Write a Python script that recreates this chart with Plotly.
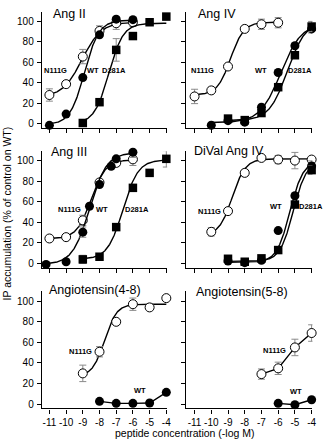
import numpy as np
import plotly.graph_objects as go

# ---------------- data ----------------
x_tickvals = [-11, -10, -9, -8, -7, -6, -5, -4]
x_ticktext = ["-11", "-10", "-9", "-8", "-7", "-6", "-5", "-4"]
y_tickvals = [0, 20, 40, 60, 80, 100]
y_ticktext = ["0", "20", "40", "60", "80", "100"]

panel_titles = ["Ang II", "Ang IV", "Ang III", "DiVal Ang IV",
                "Angiotensin(4-8)", "Angiotensin(5-8)"]

# Ang II
angII_n111g_x = [-11, -10, -9, -8, -7, -6]
angII_n111g_y = [28, 38.6, 65.5, 90.5, 98, 99]
angII_n111g_err = [6, 2, 7, 5, 6, 4]
angII_n111g_fit = [26, 99, -9.05, 0.75]   # bottom, top, logEC50, Hill
angII_wt_x = [-11, -10, -9, -8, -7, -6]
angII_wt_y = [-1.6, 9.4, 45, 86.7, 102, 101.5]
angII_wt_err = [1, 1, 2, 2, 2, 2]
angII_wt_fit = [-1, 101, -8.9, 1.0]
angII_d281a_x = [-9, -8, -7, -6, -5, -4]
angII_d281a_y = [0.7, 21, 72, 85.5, 99, 104.5]
angII_d281a_err = [1, 2, 11, 2, 3, 3]
angII_d281a_fit = [0, 98, -7.45, 1.0]

# Ang IV
angIV_n111g_x = [-11, -10, -9, -8, -7, -6]
angIV_n111g_y = [26.6, 32.5, 55.8, 92.5, 97, 98.5]
angIV_n111g_err = [7, 3, 1, 3, 5, 5]
angIV_n111g_fit = [28, 99, -8.85, 1.1]
angIV_wt_x = [-10, -9, -8, -7, -6, -5, -4]
angIV_wt_y = [-1.5, 3, 1.5, 16, 50, 76, 92.5]
angIV_wt_err = [1, 1, 1, 2, 2, 2, 4]
angIV_wt_fit = [1, 98, -5.85, 0.7]
angIV_d281a_x = [-9, -8, -7, -6, -5, -4]
angIV_d281a_y = [5, 3.5, 10.4, 35.6, 66.8, 94.8]
angIV_d281a_err = [1, 1, 2, 3, 3, 5]
angIV_d281a_fit = [3, 100, -5.45, 0.8]

# Ang III
angIII_n111g_x = [-11, -10, -9, -8, -7, -6]
angIII_n111g_y = [24.3, 25.6, 42, 79, 98, 101.5]
angIII_n111g_err = [1, 1, 5, 3, 3, 6]
angIII_n111g_fit = [24, 101, -8.5, 1.0]
angIII_wt_x = [-11.2, -10, -9, -8.6, -8, -7.3, -7, -6]
angIII_wt_y = [-1, 1.6, 30.5, 55.8, 77, 94.7, 102, 108.4]
angIII_wt_err = [1, 1, 5, 2, 2, 2, 2, 5]
angIII_wt_fit = [-1, 108, -8.6, 0.85]
angIII_d281a_x = [-9, -8, -7, -6, -5, -4]
angIII_d281a_y = [3.9, 6.5, 35.4, 73.7, 88.3, 102]
angIII_d281a_err = [4, 1, 1, 1, 1, 8]
angIII_d281a_fit = [4, 101, -6.6, 0.95]

# DiVal Ang IV
dival_n111g_x = [-10, -9, -8, -7, -6, -5, -4]
dival_n111g_y = [30.8, 51, 88.3, 102.9, 101.3, 100.3, 101.3]
dival_n111g_err = [4, 1, 3, 2, 4, 8, 1]
dival_n111g_fit = [27, 102, -8.75, 1.1]
dival_wt_x = [-9, -8, -7, -6, -5, -4]
dival_wt_y = [2.3, 0.7, 3, 32, 66, 95]
dival_wt_err = [1, 1, 1, 1, 1, 5]
dival_wt_fit = [1, 100, -5.3, 1.1]
dival_d281a_x = [-9, -8, -7, -6, -5, -4]
dival_d281a_y = [4.5, 1.6, 4.9, 13, 57.4, 91]
dival_d281a_err = [2, 1, 1, 1, 1, 4]
dival_d281a_fit = [2, 100, -5.1, 1.1]

# Angiotensin(4-8)
a48_n111g_x = [-9, -8, -7, -6, -5, -4]
a48_n111g_y = [29.8, 50.8, 79.9, 97, 93.9, 102.9]
a48_n111g_err = [8, 5, 2, 6, 2, 2]
a48_n111g_fit = [27, 97, -7.7, 1.2]
a48_wt_x = [-8, -7, -6, -5, -4]
a48_wt_y = [2.6, 0.7, 0.7, 1, 11.4]

# Angiotensin(5-8)
a58_n111g_x = [-7, -6, -5, -4]
a58_n111g_y = [29.1, 34.7, 55, 69]
a58_n111g_err = [5, 6, 8, 8]
a58_wt_x = [-6, -5, -4]
a58_wt_y = [0.7, -0.7, 4.2]

# ---------------- figure ----------------
W, H = 330, 440
FONT = "Liberation Sans, Arial, Helvetica, sans-serif"
ERRC = "#8a8a8a"

fig = go.Figure()


def hill(xs, p):
    b, t, ec, h = p
    xs = np.asarray(xs)
    return b + (t - b) / (1 + 10 ** ((ec - xs) * h))


def ax_ids(i):
    return ("x" if i == 1 else f"x{i}"), ("y" if i == 1 else f"y{i}")


def add_points(i, xs, ys, kind, err=None, mode="markers"):
    xa, ya = ax_ids(i)
    if kind == "open":
        marker = dict(symbol="circle", size=9, color="white",
                      line=dict(color="black", width=1))
    elif kind == "filled":
        marker = dict(symbol="circle", size=9, color="black",
                      line=dict(color="black", width=0))
    else:
        marker = dict(symbol="square", size=8.5, color="black",
                      line=dict(color="black", width=0))
    tr = dict(x=xs, y=ys, mode=mode, marker=marker, xaxis=xa, yaxis=ya,
              showlegend=False, cliponaxis=False,
              line=dict(color="black", width=1.4))
    if err is not None:
        tr["error_y"] = dict(type="data", array=err, visible=True,
                             color=ERRC, thickness=1, width=3.5)
    fig.add_trace(go.Scatter(**tr))


def add_fit(i, xs, p):
    xa, ya = ax_ids(i)
    xx = np.linspace(min(xs), max(xs), 200)
    fig.add_trace(go.Scatter(x=xx, y=hill(xx, p), mode="lines",
                             line=dict(color="black", width=1.4),
                             xaxis=xa, yaxis=ya, showlegend=False,
                             hoverinfo="skip", cliponaxis=False))


def add_series(i, xs, ys, err, fit, kind):
    add_fit(i, xs, fit)
    add_points(i, xs, ys, kind, err)


# panel 1 Ang II
add_series(1, angII_n111g_x, angII_n111g_y, angII_n111g_err, angII_n111g_fit, "open")
add_series(1, angII_wt_x, angII_wt_y, angII_wt_err, angII_wt_fit, "filled")
add_series(1, angII_d281a_x, angII_d281a_y, angII_d281a_err, angII_d281a_fit, "square")
# panel 2 Ang IV
add_series(2, angIV_n111g_x, angIV_n111g_y, angIV_n111g_err, angIV_n111g_fit, "open")
add_series(2, angIV_wt_x, angIV_wt_y, angIV_wt_err, angIV_wt_fit, "filled")
add_series(2, angIV_d281a_x, angIV_d281a_y, angIV_d281a_err, angIV_d281a_fit, "square")
# panel 3 Ang III
add_series(3, angIII_n111g_x, angIII_n111g_y, angIII_n111g_err, angIII_n111g_fit, "open")
add_series(3, angIII_wt_x, angIII_wt_y, angIII_wt_err, angIII_wt_fit, "filled")
add_series(3, angIII_d281a_x, angIII_d281a_y, angIII_d281a_err, angIII_d281a_fit, "square")
# panel 4 DiVal Ang IV
add_series(4, dival_n111g_x, dival_n111g_y, dival_n111g_err, dival_n111g_fit, "open")
add_series(4, dival_wt_x, dival_wt_y, dival_wt_err, dival_wt_fit, "filled")
add_series(4, dival_d281a_x, dival_d281a_y, dival_d281a_err, dival_d281a_fit, "square")
# panel 5 Angiotensin(4-8)
add_series(5, a48_n111g_x, a48_n111g_y, a48_n111g_err, a48_n111g_fit, "open")
add_points(5, a48_wt_x, a48_wt_y, "filled", mode="lines+markers")
# panel 6 Angiotensin(5-8)
add_points(6, a58_n111g_x, a58_n111g_y, "open", a58_n111g_err, mode="lines+markers")
add_points(6, a58_wt_x, a58_wt_y, "filled", mode="lines+markers")

# ---------------- layout ----------------
colx = [[42.4 / W, 169.2 / W], [188.5 / W, 316.3 / W]]
xranges = [[-11.45, -3.95], [-11.5, -3.95]]
rowy = [[1 - 128.3 / H, 1 - 11.7 / H],
        [1 - 268.3 / H, 1 - 151.7 / H],
        [1 - 409.3 / H, 1 - 291.7 / H]]
yranges = [[-4.2, 109.3], [-4.2, 109.3], [-4.2, 109.8]]

layout = dict(width=W, height=H, margin=dict(l=0, r=0, t=0, b=0),
              paper_bgcolor="white", plot_bgcolor="white",
              showlegend=False, font=dict(family=FONT, color="black"))

axis_common = dict(showline=True, linecolor="black", linewidth=1.3,
                   ticks="outside", ticklen=4, tickwidth=1.2, tickcolor="black",
                   showgrid=False, zeroline=False,
                   tickfont=dict(family=FONT, size=10, color="black"))

for i in range(1, 7):
    r = (i - 1) // 2
    c = (i - 1) % 2
    xk = "xaxis" if i == 1 else f"xaxis{i}"
    yk = "yaxis" if i == 1 else f"yaxis{i}"
    xa, ya = ax_ids(i)
    layout[xk] = dict(axis_common, domain=colx[c], range=xranges[c],
                      anchor=ya, tickmode="array", tickvals=x_tickvals,
                      ticktext=x_ticktext, showticklabels=(r == 2),
                      ticklabelstandoff=0)
    layout[yk] = dict(axis_common, domain=rowy[r], range=yranges[r],
                      anchor=xa, tickmode="array", tickvals=y_tickvals,
                      ticktext=y_ticktext, showticklabels=(c == 0),
                      ticklabelstandoff=1)

fig.update_layout(**layout)

ann = []
# panel titles (pixel positions: left x, centre y)
title_pos = [(51.5, 14.5), (198.3, 14.5), (49.3, 152), (194.3, 151),
             (47.3, 291), (196.7, 292.5)]
for t, (px, py) in zip(panel_titles, title_pos):
    ann.append(dict(text=t, x=px / W, y=1 - py / H, xref="paper", yref="paper",
                    xanchor="left", yanchor="middle", showarrow=False,
                    font=dict(family=FONT, size=12.5, color="black")))

labels = [("N111G", 56, 70.7), ("WT", 94.3, 70.7), ("D281A", 115.7, 70.7),
          ("N111G", 205, 70.7), ("WT", 264.3, 70.7), ("D281A", 303.3, 70.7),
          ("N111G", 70.7, 210), ("WT", 103.3, 210), ("D281A", 138.3, 210),
          ("N111G", 211.7, 211.7), ("WT", 279, 206.7), ("D281A", 315, 206.7),
          ("N111G", 81.7, 352.7), ("WT", 141.7, 391.7),
          ("N111G", 278.3, 351.7), ("WT", 300, 392.3)]
for t, px, py in labels:
    ann.append(dict(text=f"<b>{t}</b>", x=px / W, y=1 - py / H, xref="paper",
                    yref="paper", xanchor="center", yanchor="middle",
                    showarrow=False, font=dict(family=FONT, size=7.5, color="black")))

ann.append(dict(text="IP accumulation (% of control on WT)", x=7 / W, y=1 - 214 / H,
                xref="paper", yref="paper", textangle=-90, showarrow=False,
                xanchor="center", yanchor="middle",
                font=dict(family=FONT, size=10.5, color="black")))
ann.append(dict(text="peptide concentration (-log M)", x=187 / W, y=1 - 433.5 / H,
                xref="paper", yref="paper", showarrow=False,
                xanchor="center", yanchor="middle",
                font=dict(family=FONT, size=10.5, color="black")))
fig.update_layout(annotations=ann)

fig.write_html("out.html")
